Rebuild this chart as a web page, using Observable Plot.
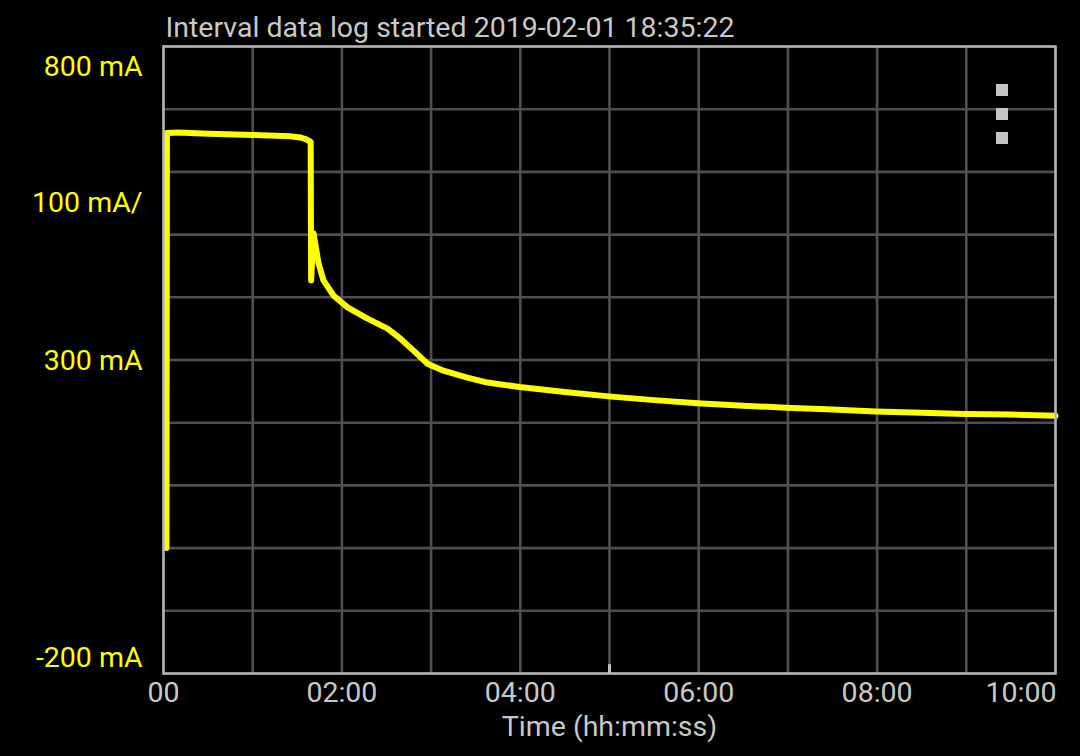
<!DOCTYPE html>
<html>
<head>
<meta charset="utf-8">
<script src="https://cdn.jsdelivr.net/npm/d3@7"></script>
<script src="https://cdn.jsdelivr.net/npm/@observablehq/plot@0.6"></script>
<style>
  html, body { margin: 0; padding: 0; background: #000; }
  #wrap { position: relative; width: 1080px; height: 756px; overflow: hidden; }
  .dot { position: absolute; width: 12px; height: 12px; background: #c4c4c4; left: 996px; }
</style>
</head>
<body>
<div id="wrap">
  <div id="chart"></div>
  <div class="dot" style="top:84px"></div>
  <div class="dot" style="top:108px"></div>
  <div class="dot" style="top:132px"></div>
</div>
<script>
// Time in seconds since start of log, current in mA
const times = [2, 2.3, 10, 30, 60, 85, 92, 96, 99, 99.3, 100.9, 104.3, 107.6, 114.3, 123.8, 137.2, 150.7, 159.4, 168.2, 177.6, 188.3, 204.4, 217.9, 239.5, 270, 299.3, 330, 359.2, 390, 419, 450, 478.9, 510, 538.8, 570, 600];
const currents = [0, 662, 663, 661, 659, 657, 655, 652, 648, 427, 502, 454, 427, 403, 384, 366, 350, 334, 315, 294, 283, 272, 264, 257, 249, 242, 236, 231, 227, 224, 221, 218, 216, 214, 213, 211];

const gridTimes = [0, 60, 120, 180, 240, 300, 360, 420, 480, 540, 600];
const gridCurrents = [-200, -100, 0, 100, 200, 300, 400, 500, 600, 700, 800];

const xTickValues = [0, 120, 240, 360, 480, 600];
const xTickLabels = ["00", "02:00", "04:00", "06:00", "08:00", "10:00"];
const xTickAnchors = ["middle", "middle", "middle", "middle", "middle", "end"];

const yLabelValues = [768, 550, 299, -175];
const yLabelTexts = ["800 mA", "100 mA/", "300 mA", "-200 mA"];

const markerTimes = [300];

const titleText = "Interval data log started 2019-02-01 18:35:22";
const xTitle = "Time (hh:mm:ss)";

const data = times.map((t, i) => ({t, v: currents[i]}));
const xTicks = xTickValues.map((x, i) => ({x, label: xTickLabels[i], anchor: xTickAnchors[i]}));
const font = "Roboto, 'Noto Sans', sans-serif";
const fs = 28.5;

const chart = Plot.plot({
  width: 1080,
  height: 756,
  marginLeft: 163,
  marginRight: 25,
  marginTop: 46,
  marginBottom: 83,
  style: {background: "#000", fontFamily: font},
  x: {domain: [0, 600], axis: null},
  y: {domain: [-200, 800], axis: null},
  marks: [
    Plot.ruleX(gridTimes, {x: d => d, stroke: "#4f4f4f", strokeWidth: 2.6}),
    Plot.ruleY(gridCurrents, {y: d => d, stroke: "#4f4f4f", strokeWidth: 2.6}),
    Plot.line(data, {x: "t", y: "v", stroke: "#ffff00", strokeWidth: 6, strokeLinejoin: "round"}),
    Plot.frame({stroke: "#b4b4b4", strokeWidth: 2.5}),
    Plot.ruleX(markerTimes, {x: d => d, y1: -200, y2: -186, stroke: "#c0c0c0", strokeWidth: 3}),
    Plot.text(yLabelValues, {y: d => d, text: (d, i) => yLabelTexts[i], frameAnchor: "left", dx: -21, textAnchor: "end", fill: "#ffff00", fontSize: fs}),
    Plot.text(xTicks.filter(d => d.anchor === "middle"), {x: "x", text: "label", frameAnchor: "bottom", dy: 19, lineAnchor: "middle", textAnchor: "middle", fill: "#c8c8c8", fontSize: fs}),
    Plot.text(xTicks.filter(d => d.anchor === "end"), {x: "x", text: "label", frameAnchor: "bottom", dx: 1, dy: 19, lineAnchor: "middle", textAnchor: "end", fill: "#c8c8c8", fontSize: fs}),
    Plot.text([xTitle], {frameAnchor: "bottom", dy: 53, lineAnchor: "middle", fill: "#c8c8c8", fontSize: fs}),
    Plot.text([titleText], {frameAnchor: "top-left", dx: 2, dy: -19, lineAnchor: "middle", textAnchor: "start", fill: "#c8c8c8", fontSize: fs})
  ]
});
document.getElementById("chart").appendChild(chart);
</script>
</body>
</html>
